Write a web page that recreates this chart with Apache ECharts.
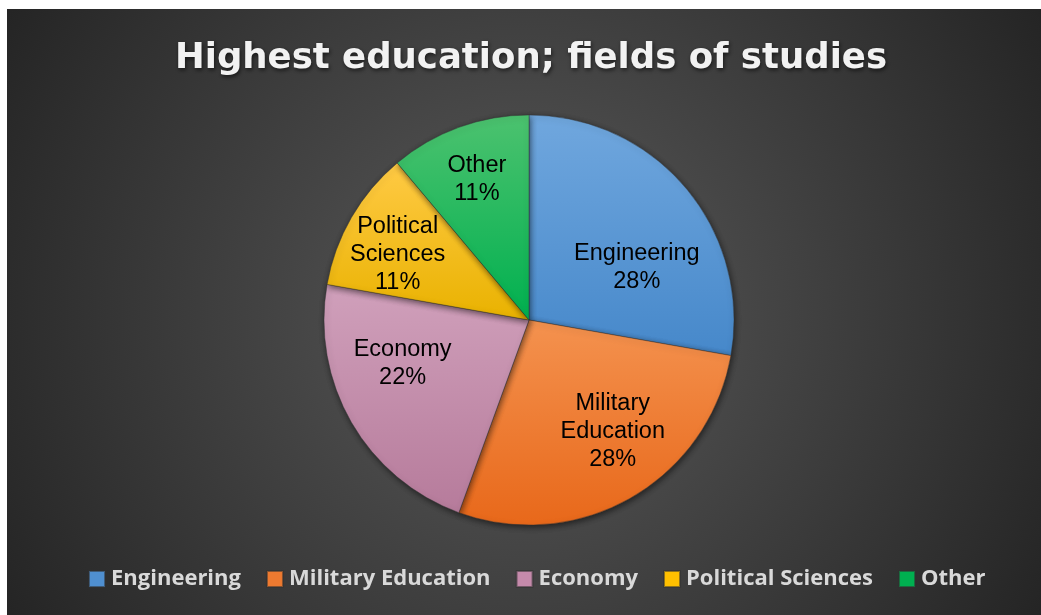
<!DOCTYPE html>
<html>
<head>
<meta charset="utf-8">
<script src="https://cdn.jsdelivr.net/npm/echarts@6/dist/echarts.min.js"></script>
<style>
  html, body { margin: 0; padding: 0; background: #ffffff; }
  #chart { position: absolute; left: 7px; top: 9px; width: 1034px; height: 606px; }
</style>
</head>
<body>
<div id="chart"></div>
<script>
// Fields of study, highest education (counts of respondents)
const categories = ['Engineering', 'Military Education', 'Economy', 'Political Sciences', 'Other'];
const counts = [5, 5, 4, 2, 2];
// Slice labels shown on two lines
const sliceLabels = ['Engineering', 'Military\nEducation', 'Economy', 'Political\nSciences', 'Other'];

// Gradient stops per slice: [top, bottom]
const sliceColors = [
  ['#70a7de', '#4688ca'],
  ['#f4924f', '#e8681a'],
  ['#d0a0bb', '#b67b9b'],
  ['#ffca45', '#e9b200'],
  ['#4cc26f', '#00b04f']
];
const legendColors = ['#4f8fd0', '#ee7a30', '#c58aab', '#ffc000', '#00b050'];
// Nudges that move labels from the slice mid-radius toward the outer area
const labelNudges = [[27, 15], [31, 20], [-35, -9], [-40, -13], [-16, -41]];

const chart = echarts.init(document.getElementById('chart'), null, { renderer: 'canvas' });

const total = counts.reduce((a, b) => a + b, 0);

const option = {
  animation: false,
  backgroundColor: {
    type: 'radial', x: 0.5, y: 0.5, r: 1.0,
    colorStops: [
      { offset: 0, color: '#5a5a5a' },
      { offset: 1, color: '#242424' }
    ]
  },
  title: {
    text: 'Highest education; fields of studies',
    left: 163,
    top: 27,
    textStyle: {
      fontFamily: 'DejaVu Sans',
      fontWeight: 'bold',
      fontSize: 35.5,
      color: '#f2f2f2',
      textShadowColor: 'rgba(0,0,0,0.6)',
      textShadowBlur: 4,
      textShadowOffsetX: 1,
      textShadowOffsetY: 2
    }
  },
  legend: {
    bottom: 20,
    left: 76,
    itemWidth: 16,
    itemHeight: 16,
    itemGap: 25,
    icon: 'rect',
    textStyle: {
      fontFamily: 'Open Sans',
      fontWeight: 'bold',
      fontSize: 22,
      color: '#d9d9d9',
      padding: [0, 0, 0, 1]
    },
    data: categories.map((c, i) => ({ name: c, itemStyle: { color: legendColors[i] } }))
  },
  series: [{
    type: 'pie',
    center: [522, 311],
    radius: [0, 205],
    startAngle: 90,
    clockwise: true,
    avoidLabelOverlap: false,
    emphasis: { disabled: true },
    itemStyle: {
      borderColor: 'rgba(50,50,50,0.55)',
      borderWidth: 0.8,
      shadowColor: 'rgba(0,0,0,0.55)',
      shadowBlur: 6,
      shadowOffsetX: 1,
      shadowOffsetY: 2
    },
    label: {
      show: true,
      position: 'inside',
      fontFamily: 'Liberation Sans',
      fontSize: 23.5,
      lineHeight: 28,
      color: '#000000',
      align: 'center',
      formatter: (p) => sliceLabels[p.dataIndex] + '\n' + Math.round(p.value / total * 100) + '%'
    },
    labelLine: { show: false },
    data: categories.map((c, i) => ({
      name: c,
      value: counts[i],
      itemStyle: {
        color: {
          type: 'linear', x: 0, y: 0, x2: 0, y2: 1,
          colorStops: [
            { offset: 0, color: sliceColors[i][0] },
            { offset: 1, color: sliceColors[i][1] }
          ]
        }
      },
      label: { offset: labelNudges[i] }
    }))
  }]
};

chart.setOption(option);
</script>
</body>
</html>
